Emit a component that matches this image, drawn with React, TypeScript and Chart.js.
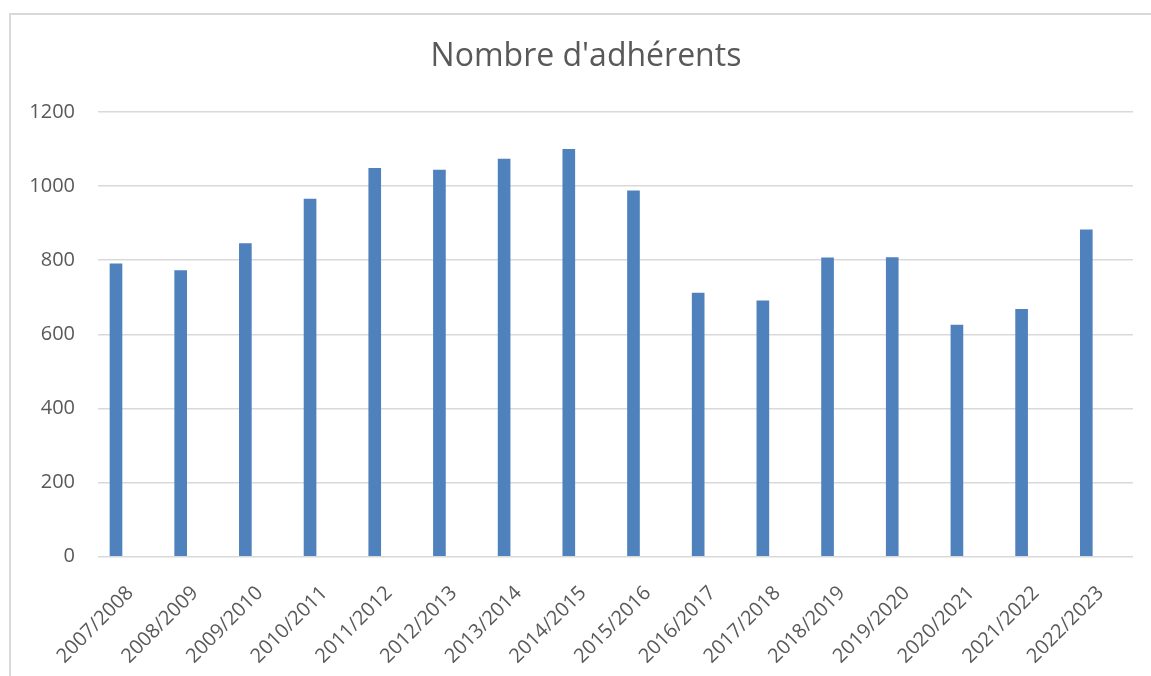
import { useEffect, useRef } from "react";
import { Chart, registerables } from "chart.js";

Chart.register(...registerables);

const chartTitle = "Nombre d'adhérents";
const categories = [
  "2007/2008", "2008/2009", "2009/2010", "2010/2011", "2011/2012", "2012/2013",
  "2013/2014", "2014/2015", "2015/2016", "2016/2017", "2017/2018", "2018/2019",
  "2019/2020", "2020/2021", "2021/2022", "2022/2023",
];
const members = [790, 772, 845, 965, 1048, 1043, 1073, 1099, 987, 711, 690, 806, 807, 625, 667, 882];
const yTickValues = [0, 200, 400, 600, 800, 1000, 1200];

const TEXT = "#595959";
const GRID = "#D9D9D9";
const BAR = "#4F81BD";
const FONT = "'Open Sans', 'Noto Sans', sans-serif";

const framePlugin = {
  id: "frame",
  afterLayout(chart: any) {
    // centre the title where the original places it
    if (chart.titleBlock) chart.titleBlock.left = 39;
  },
  beforeDraw(chart: any) {
    const { ctx, width, height } = chart;
    ctx.save();
    ctx.fillStyle = "#ffffff";
    ctx.fillRect(0, 0, width, height);
    ctx.strokeStyle = GRID;
    ctx.lineWidth = 2;
    ctx.beginPath();
    ctx.moveTo(10, height);
    ctx.lineTo(10, 14);
    ctx.lineTo(width, 14);
    ctx.stroke();
    ctx.restore();
  },
};

export default function App() {
  const ref = useRef<HTMLCanvasElement | null>(null);

  useEffect(() => {
    if (!ref.current) return;
    const chart = new Chart(ref.current, {
      type: "bar",
      data: {
        datasets: [
          {
            label: chartTitle,
            data: members.map((v, i) => ({ x: i, y: v })),
            backgroundColor: BAR,
            borderWidth: 0,
            barThickness: 12,
            xAxisID: "x",
            yAxisID: "y",
          },
        ],
      },
      options: {
        animation: false,
        responsive: false,
        layout: { padding: { left: 20, right: 18, top: 0, bottom: 0 } },
        plugins: {
          legend: { display: false },
          tooltip: { enabled: false },
          title: {
            display: true,
            text: chartTitle,
            color: TEXT,
            font: { family: FONT, size: 32, weight: "normal" },
            padding: { top: 38, bottom: 35.6 },
          },
        },
        scales: {
          x: {
            type: "linear",
            display: false,
            offset: false,
            bounds: "data",
            min: -0.278,
            max: 15.722,
          },
          xl: {
            type: "linear",
            position: "bottom",
            offset: false,
            min: -0.5,
            max: 15.5,
            grid: { display: false, drawTicks: false, offset: false },
            border: { display: false },
            afterBuildTicks: (axis: any) => {
              axis.ticks = categories.map((_, i) => ({ value: i }));
            },
            afterFit: (axis: any) => {
              axis.height = 119.5;
            },
            ticks: {
              autoSkip: false,
              minRotation: 45,
              maxRotation: 45,
              padding: 25,
              color: TEXT,
              font: { family: FONT, size: 20 },
              callback: (v: any) => categories[v] ?? "",
            },
          },
          y: {
            type: "linear",
            min: 0,
            max: 1200,
            grid: { color: GRID, lineWidth: 1.5, drawTicks: false },
            border: { display: false },
            afterBuildTicks: (axis: any) => {
              axis.ticks = yTickValues.map((v) => ({ value: v }));
            },
            afterFit: (axis: any) => {
              axis.width = 78;
            },
            ticks: {
              padding: 23,
              color: TEXT,
              font: { family: FONT, size: 20 },
              callback: (v: any) => String(v),
            },
          },
        },
      },
      plugins: [framePlugin],
    });
    return () => chart.destroy();
  }, []);

  return (
    <div style={{ position: "absolute", left: 0, top: 0, width: 1151, height: 676 }}>
      <canvas ref={ref} width={1151} height={676} />
    </div>
  );
}
